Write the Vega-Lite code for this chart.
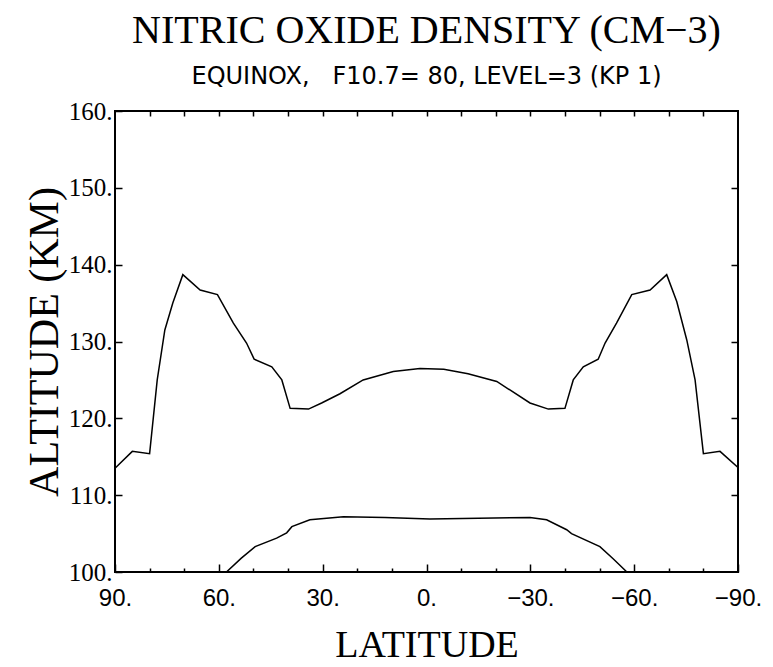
{
  "$schema": "https://vega.github.io/schema/vega-lite/v6.json",
  "width": 623,
  "height": 461,
  "autosize": "none",
  "padding": {"left": 115, "top": 111, "right": 35, "bottom": 95},
  "background": "white",
  "config": {
    "view": {"stroke": "black", "strokeWidth": 2},
    "axis": {"grid": false, "domain": false, "tickColor": "black", "labelColor": "black", "titleColor": "black", "tickWidth": 1.5}
  },
  "title": {
    "text": "NITRIC OXIDE DENSITY (CM\u22123)",
    "subtitle": "EQUINOX,\u00a0\u00a0 F10.7=\u00a080, LEVEL=3 (KP 1)",
    "font": "Liberation Serif",
    "fontSize": 40,
    "fontWeight": "normal",
    "color": "black",
    "subtitleFont": "DejaVu Sans",
    "subtitleFontSize": 24,
    "subtitleColor": "black",
    "anchor": "middle",
    "offset": 10,
    "subtitlePadding": 14
  },
  "data": {
    "values": [
      {"curve": "upper", "lat": 90, "alt": 113.5},
      {"curve": "upper", "lat": 85, "alt": 115.7},
      {"curve": "upper", "lat": 80, "alt": 115.4},
      {"curve": "upper", "lat": 77.8, "alt": 125.0},
      {"curve": "upper", "lat": 75.6, "alt": 131.5},
      {"curve": "upper", "lat": 73.3, "alt": 135.0},
      {"curve": "upper", "lat": 70.4, "alt": 138.7},
      {"curve": "upper", "lat": 65.4, "alt": 136.7},
      {"curve": "upper", "lat": 60.4, "alt": 136.1},
      {"curve": "upper", "lat": 55.8, "alt": 132.4},
      {"curve": "upper", "lat": 52, "alt": 129.8},
      {"curve": "upper", "lat": 49.8, "alt": 127.7},
      {"curve": "upper", "lat": 44.7, "alt": 126.7},
      {"curve": "upper", "lat": 41.8, "alt": 125.0},
      {"curve": "upper", "lat": 39.4, "alt": 121.3},
      {"curve": "upper", "lat": 34.1, "alt": 121.2},
      {"curve": "upper", "lat": 30.3, "alt": 122.0},
      {"curve": "upper", "lat": 25, "alt": 123.2},
      {"curve": "upper", "lat": 18.3, "alt": 125.0},
      {"curve": "upper", "lat": 9.6, "alt": 126.1},
      {"curve": "upper", "lat": 1.9, "alt": 126.5},
      {"curve": "upper", "lat": -5, "alt": 126.4},
      {"curve": "upper", "lat": -12, "alt": 125.8},
      {"curve": "upper", "lat": -20.3, "alt": 124.8},
      {"curve": "upper", "lat": -29.9, "alt": 122.0},
      {"curve": "upper", "lat": -35.2, "alt": 121.2},
      {"curve": "upper", "lat": -40, "alt": 121.3},
      {"curve": "upper", "lat": -42.4, "alt": 125.0},
      {"curve": "upper", "lat": -45.3, "alt": 126.7},
      {"curve": "upper", "lat": -49.6, "alt": 127.7},
      {"curve": "upper", "lat": -51.6, "alt": 129.8},
      {"curve": "upper", "lat": -54.9, "alt": 132.4},
      {"curve": "upper", "lat": -59.3, "alt": 136.1},
      {"curve": "upper", "lat": -64.6, "alt": 136.7},
      {"curve": "upper", "lat": -69.4, "alt": 138.7},
      {"curve": "upper", "lat": -72.3, "alt": 135.2},
      {"curve": "upper", "lat": -75.2, "alt": 130.2},
      {"curve": "upper", "lat": -77.6, "alt": 125.0},
      {"curve": "upper", "lat": -80, "alt": 115.4},
      {"curve": "upper", "lat": -84.8, "alt": 115.7},
      {"curve": "upper", "lat": -90, "alt": 113.6},
      {"curve": "lower", "lat": 57.8, "alt": 100.0},
      {"curve": "lower", "lat": 53.5, "alt": 101.8},
      {"curve": "lower", "lat": 49.5, "alt": 103.3},
      {"curve": "lower", "lat": 43.3, "alt": 104.4},
      {"curve": "lower", "lat": 40.4, "alt": 105.1},
      {"curve": "lower", "lat": 38.9, "alt": 105.9},
      {"curve": "lower", "lat": 33.7, "alt": 106.8},
      {"curve": "lower", "lat": 24, "alt": 107.2},
      {"curve": "lower", "lat": 12, "alt": 107.1},
      {"curve": "lower", "lat": -1, "alt": 106.9},
      {"curve": "lower", "lat": -15, "alt": 107.0},
      {"curve": "lower", "lat": -29.9, "alt": 107.1},
      {"curve": "lower", "lat": -34.7, "alt": 106.8},
      {"curve": "lower", "lat": -40.5, "alt": 105.5},
      {"curve": "lower", "lat": -41.9, "alt": 105.0},
      {"curve": "lower", "lat": -50.1, "alt": 103.3},
      {"curve": "lower", "lat": -54, "alt": 101.7},
      {"curve": "lower", "lat": -57.9, "alt": 100.0}
    ]
  },
  "layer": [
    {
      "mark": {"type": "line", "color": "black", "strokeWidth": 1.5, "clip": true},
      "encoding": {
        "x": {
          "field": "lat", "type": "quantitative",
          "scale": {"domain": [-90, 90], "reverse": true, "nice": false, "zero": false},
          "axis": {
            "orient": "bottom",
            "values": [90, 60, 30, 0, -30, -60, -90],
            "labelExpr": "format(datum.value, 'd') + '.'",
            "tickSize": -8,
            "labelFont": "Liberation Sans",
            "labelFontSize": 24,
            "labelPadding": 22,
            "labelFlush": false,
            "title": "LATITUDE",
            "titleFont": "Liberation Serif",
            "titleFontSize": 38,
            "titleFontWeight": "normal",
            "titlePadding": 16
          }
        },
        "y": {
          "field": "alt", "type": "quantitative",
          "scale": {"domain": [100, 160], "nice": false, "zero": false},
          "axis": {
            "orient": "left",
            "values": [100, 110, 120, 130, 140, 150, 160],
            "labelExpr": "format(datum.value, 'd') + '.'",
            "tickSize": -7,
            "labelFont": "Liberation Serif",
            "labelFontSize": 25,
            "labelPadding": 10,
            "labelFlush": false,
            "title": "ALTITUDE (KM)",
            "titleFont": "Liberation Serif",
            "titleFontSize": 42,
            "titleFontWeight": "normal",
            "titlePadding": 2
          }
        },
        "detail": {"field": "curve"}
      }
    },
    {
      "mark": {"type": "line", "opacity": 0},
      "encoding": {
        "x": {
          "field": "lat", "type": "quantitative",
          "axis": {"orient": "top", "values": [80, 70, 60, 50, 40, 30, 20, 10, 0, -10, -20, -30, -40, -50, -60, -70, -80], "labels": false, "tickSize": -5, "title": null}
        },
        "y": {
          "field": "alt", "type": "quantitative",
          "axis": {"orient": "right", "values": [110, 120, 130, 140, 150], "labels": false, "tickSize": -7, "title": null}
        },
        "detail": {"field": "curve"}
      }
    },
    {
      "mark": {"type": "line", "opacity": 0},
      "encoding": {
        "x": {
          "field": "lat", "type": "quantitative",
          "axis": {"orient": "bottom", "values": [80, 70, 50, 40, 20, 10, -10, -20, -40, -50, -70, -80], "labels": false, "tickSize": -4, "title": null}
        },
        "y": {"field": "alt", "type": "quantitative", "axis": null},
        "detail": {"field": "curve"}
      }
    }
  ],
  "resolve": {"axis": {"x": "independent", "y": "independent"}}
}
